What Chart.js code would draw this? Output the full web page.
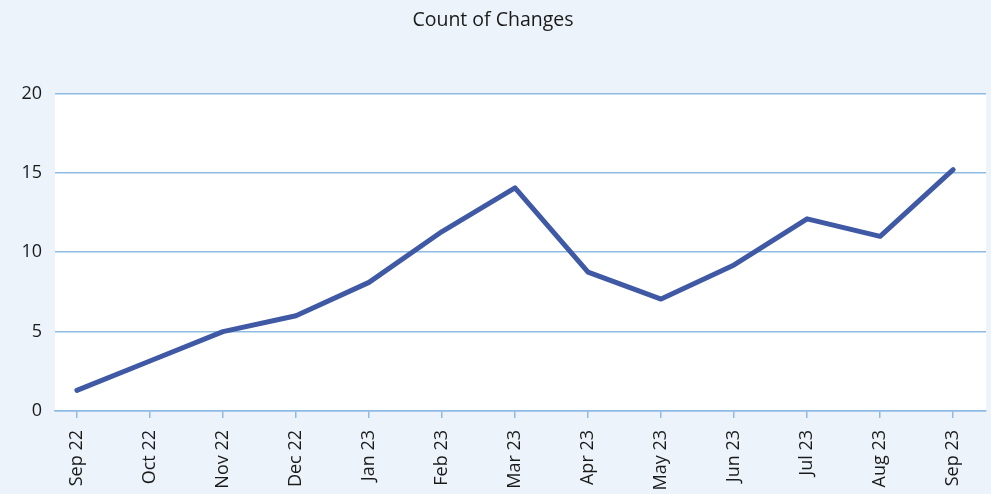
<!DOCTYPE html>
<html>
<head>
<meta charset="utf-8">
<script src="https://cdn.jsdelivr.net/npm/chart.js@4"></script>
<style>
html,body{margin:0;padding:0;background:#ECF3FA;}
#wrap{width:991px;height:494px;}
</style>
</head>
<body>
<div id="wrap"><canvas id="c" width="991" height="494"></canvas></div>
<script>
const labels = ["Sep 22","Oct 22","Nov 22","Dec 22","Jan 23","Feb 23","Mar 23","Apr 23","May 23","Jun 23","Jul 23","Aug 23","Sep 23"];
const counts = [1.3, 3.15, 5.0, 6.0, 8.1, 11.3, 14.05, 8.75, 7.05, 9.2, 12.1, 11.0, 15.2];
const yTicks = [0, 5, 10, 15, 20];
const titleText = "Count of Changes";

const FONT = "'Open Sans', sans-serif";
const plotBg = {
  id: 'plotBg',
  beforeDraw(chart) {
    const {ctx, chartArea: a} = chart;
    ctx.save();
    ctx.fillStyle = '#ffffff';
    ctx.fillRect(a.left, a.top, a.right - a.left, a.bottom - a.top);
    ctx.restore();
  }
};

new Chart(document.getElementById('c'), {
  type: 'line',
  data: {
    datasets: [{
      data: counts.map((v, i) => ({x: i, y: v})),
      borderColor: '#3F59A5',
      borderWidth: 5,
      pointRadius: 0,
      tension: 0,
      borderCapStyle: 'round',
      borderJoinStyle: 'round',
      fill: false
    }]
  },
  options: {
    responsive: false,
    animation: false,
    devicePixelRatio: 1,
    layout: {padding: {left: 0, right: 5, top: 0, bottom: 0}},
    plugins: {
      legend: {display: false},
      tooltip: {enabled: false},
      title: {
        display: true,
        text: titleText,
        color: '#1a1a1a',
        font: {family: FONT, size: 19.5, weight: 'normal'},
        padding: {top: 9, bottom: 61}
      }
    },
    scales: {
      x: {
        type: 'linear',
        min: -0.3,
        max: 12.45,
        afterBuildTicks: s => { s.ticks = labels.map((_, i) => ({value: i})); },
        afterFit: s => { s.height = 83; },
        grid: {display: true, drawOnChartArea: false, drawTicks: true, tickLength: 7, color: '#8FBBE3', lineWidth: 1.5},
        border: {display: true, color: '#8FBBE3', width: 1.5},
        ticks: {
          autoSkip: false,
          maxRotation: 90,
          minRotation: 90,
          padding: 12,
          color: '#1a1a1a',
          font: {family: FONT, size: 18},
          callback: v => labels[v]
        }
      },
      y: {
        min: 0,
        max: 20,
        afterBuildTicks: s => { s.ticks = yTicks.map(v => ({value: v})); },
        afterFit: s => { s.width = 55; },
        grid: {color: '#8FBBE3', drawTicks: false, lineWidth: 1.5},
        border: {display: false},
        ticks: {
          padding: 13,
          color: '#1a1a1a',
          font: {family: FONT, size: 18}
        }
      }
    }
  },
  plugins: [plotBg]
});
</script>
</body>
</html>
